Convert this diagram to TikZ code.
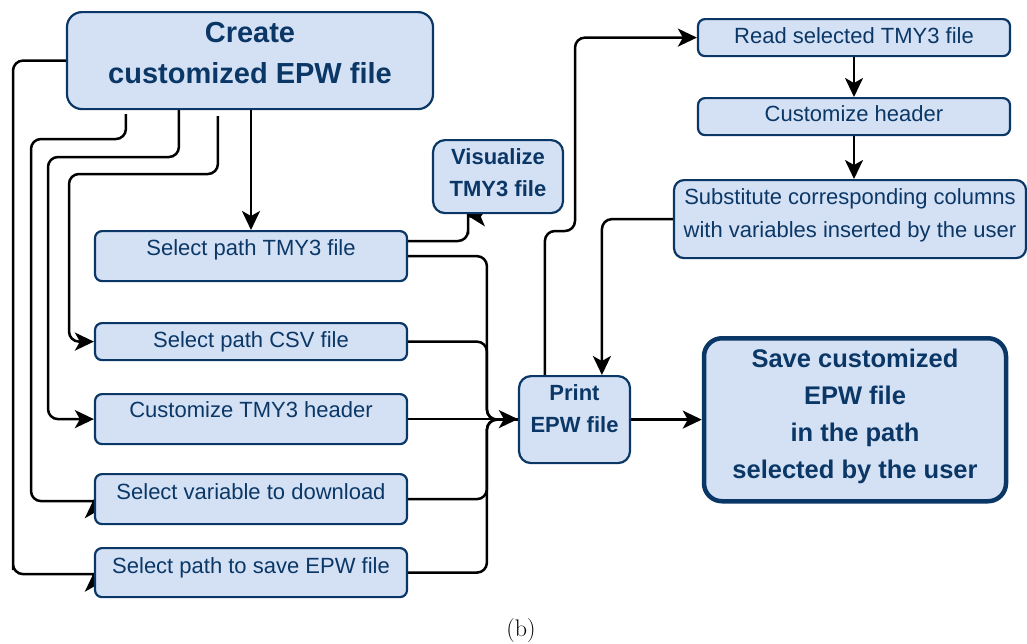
\documentclass[tikz,border=0pt]{standalone}
\usepackage{fontspec}
\newfontfamily\arial{Liberation Sans}
\usetikzlibrary{arrows.meta,calc}
\definecolor{boxfill}{HTML}{D4E1F5}
\definecolor{boxline}{HTML}{0B3766}
\pgfdeclarelayer{bg}
\pgfsetlayers{bg,main}
\tikzset{
  box/.style={draw=boxline, fill=boxfill, line width=2.2pt, rounded corners=7pt,
    inner xsep=0pt, inner ysep=0pt, anchor=north, text=boxline, align=center,
    font=\arial\fontsize{22}{33}\selectfont},
  bbox/.style={box, font=\arial\bfseries\fontsize{22}{32}\selectfont},
  conn/.style={draw=black, line width=2.5pt, rounded corners=10pt},
  arr/.style={conn, -{Stealth[length=19pt,width=18pt,inset=5pt]}},
}
\begin{document}
\begin{tikzpicture}[x=1pt,y=-1pt]
\useasboundingbox (0,0) rectangle (1027,643);

\node[bbox, font=\arial\bfseries\fontsize{29}{41}\selectfont, minimum width=366pt,
  text height=71.6pt, text depth=25.4pt, rounded corners=15pt] (create) at (250,11) {Create\\customized EPW file};
\node[box, minimum width=312pt, text height=24.5pt, text depth=25.5pt] (tmy) at (251,230) {Select path TMY3 file};
\node[box, minimum width=312pt, text height=24pt, text depth=13pt] (csv) at (251,322) {Select path CSV file};
\node[box, minimum width=312pt, text height=23.5pt, text depth=26.5pt] (hdr) at (251,393) {Customize TMY3 header};
\node[box, minimum width=312pt, text height=25.5pt, text depth=24.5pt] (var) at (251,473) {Select variable to download};
\node[box, minimum width=312pt, text height=25.5pt, text depth=23.5pt] (sp) at (251,547) {Select path to save EPW file};
\node[bbox, minimum width=130pt, text height=56.5pt, text depth=16.5pt, rounded corners=12pt] (vis) at (498,139) {Visualize\\TMY3 file};
\node[box, minimum width=312pt, text height=24pt, text depth=13pt] (read) at (854,18) {Read selected TMY3 file};
\node[box, minimum width=312pt, text height=23pt, text depth=14pt] (cust) at (854,97) {Customize header};
\node[box, minimum width=352pt, text height=57.5pt, text depth=20.5pt, rounded corners=10pt] (subst) at (850,179) {Substitute corresponding columns\\with variables inserted by the user};
\node[bbox, minimum width=111pt, text height=56.5pt, text depth=30.5pt, rounded corners=12pt] (print) at (574.5,375) {Print\\EPW file};
\node[bbox, font=\arial\bfseries\fontsize{25.5}{37}\selectfont, line width=4.5pt, minimum width=302pt,
  text height=140.5pt, text depth=22.5pt, rounded corners=18pt] (save) at (855,336) {Save customized\\EPW file\\in the path\\selected by the user};
\node[font=\fontsize{24}{28}\selectfont, anchor=base] (cap) at (521,636) {(b)};

\begin{pgfonlayer}{bg}
\draw[arr] (tmy.north |- create.south) -- (tmy.north);
\draw[arr] (create.west) -| (13,560) |- ($(sp.west)+(-9,1.5)$) .. controls ($(sp.west)+(-2,1.5)$) and ($(sp.west)+(0,9)$) .. (sp.west);
\draw[arr] ($(create.south west)+(60,4)$) |- (31,139) |- ($(var.west)+(-9,2)$) .. controls ($(var.west)+(-2,2)$) and ($(var.west)+(0,9)$) .. (var.west);
\draw[arr] ($(create.south west)+(113,0)$) |- (48,157) |- (hdr.west);
\draw[arr] ($(create.south west)+(152,6)$) |- (69,174) |- (csv.west);
\draw[arr] ($(tmy.north east)+(0,11)$) -| (468,224) .. controls (468,218) and (474,216) .. ($(vis.south west)+(35,1)$);
\draw[conn] (tmy.east) -| ($(print.west)+(-31,0)$) -- (print.west);
\draw[conn] (csv.east) -| ($(print.west)+(-31,0)$) -- (print.west);
\draw[conn] (var.east) -| ($(print.west)+(-31,0)$) -- (print.west);
\draw[conn] (sp.east) -| ($(print.west)+(-31,0)$) -- (print.west);
\draw[arr] (hdr.east) -- (hdr.east -| print.west);
\draw[arr] ($(print.north west)+(27,0)$) |- (575,231) |- (read.west);
\draw[arr] (subst.west) -| ($(print.north west)+(84,0)$);
\draw[arr] (read.south) -- (cust.north);
\draw[arr] (cust.south) -- (cust.south |- subst.north);
\draw[arr] (print.east) -- (print.east -| save.west);
\end{pgfonlayer}
\end{tikzpicture}
\end{document}
